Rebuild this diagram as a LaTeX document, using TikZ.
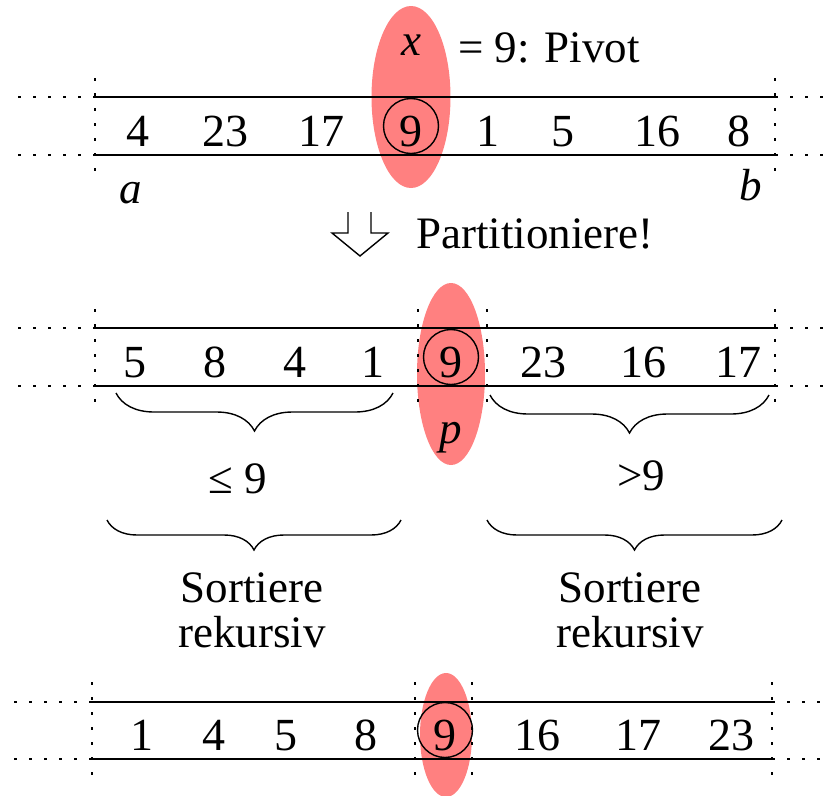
\documentclass[tikz,border=0pt]{standalone}
\usepackage{fontspec}
\setmainfont{Liberation Serif}
\usetikzlibrary{decorations.pathreplacing}
\begin{document}
\begin{tikzpicture}[x=1pt,y=-1pt,
  num/.style={anchor=base,inner sep=0pt,font=\fontsize{46}{50}\selectfont},
  txt/.style={anchor=base,inner sep=0pt,font=\fontsize{45}{49}\selectfont},
  pivotmark/.style={fill=red!50,draw=none},
  ring/.style={draw,circle,line width=1.4pt,minimum size=55pt,inner sep=0pt},
  rail/.style={line width=1.8pt},
  dots/.style={line width=2pt,dash pattern=on 2.5pt off 12.5pt},
  bracedown/.style={line width=1.4pt,decorate,decoration={brace,mirror,amplitude=#1}},
  hollowarrow/.style={line width=1.4pt,line join=miter}]
\useasboundingbox (0,0) rectangle (831,796);

% ---------- pivot highlights (behind everything) ----------
\fill[pivotmark] (411,97) ellipse [x radius=39.5, y radius=91];
\fill[pivotmark] (451,374) ellipse [x radius=34, y radius=91];
\fill[pivotmark] (446,735) ellipse [x radius=26, y radius=62];

% ---------- row 1: input array ----------
\coordinate (r1tl) at (95,97);  \coordinate (r1tr) at (775,97);
\coordinate (r1bl) at (95,155); \coordinate (r1br) at (775,155);
\draw[rail] (r1tl) -- (r1tr);
\draw[rail] (r1bl) -- (r1br);
\coordinate (r1ol) at (18,97);  \coordinate (r1or) at (831,97);
\coordinate (r1ul) at (18,155); \coordinate (r1ur) at (831,155);
\draw[dots] (r1ol) -- (r1tl); \draw[dots] (r1tr) -- (r1or);
\draw[dots] (r1ul) -- (r1bl); \draw[dots] (r1br) -- (r1ur);
\coordinate (r1va) at (95,78);  \coordinate (r1vb) at (95,176);
\coordinate (r1vc) at (775,78); \coordinate (r1vd) at (775,176);
\draw[dots] (r1va) -- (r1vb);
\draw[dots] (r1vc) -- (r1vd);

\node[num] (a1) at (138,146) {4};
\node[num] (a2) at (225,146) {23};
\node[num] (a3) at (321,146) {17};
\node[num] (a4) at (411,146) {9};
\node[num] (a5) at (488,146) {1};
\node[num] (a6) at (563,146) {5};
\node[num] (a7) at (657,146) {16};
\node[num] (a8) at (739,146) {8};
\node[ring] (c1) at (411,126) {};

\node[txt] (xlab) at (411,55) {\textit{x}};
\node[txt,anchor=base west] (pivlab) at (458,62) {= 9: Pivot};
\node[txt] (alab) at (131,203) {\textit{a}};
\node[txt] (blab) at (751,200) {\textit{b}};

% ---------- partition step ----------
\draw[hollowarrow] (348,212) -- (348,233) -- (332,233) -- (360,256)
  -- (388,233) -- (371,233) -- (371,212);
\node[txt,anchor=base west] (partlab) at (416,248) {Partitioniere!};

% ---------- row 2: partitioned array ----------
\coordinate (r2tl) at (95,328);  \coordinate (r2tr) at (775,328);
\coordinate (r2bl) at (95,386);  \coordinate (r2br) at (775,386);
\draw[rail] (r2tl) -- (r2tr);
\draw[rail] (r2bl) -- (r2br);
\coordinate (r2ol) at (18,328);  \coordinate (r2or) at (831,328);
\coordinate (r2ul) at (18,386);  \coordinate (r2ur) at (831,386);
\draw[dots] (r2ol) -- (r2tl); \draw[dots] (r2tr) -- (r2or);
\draw[dots] (r2ul) -- (r2bl); \draw[dots] (r2br) -- (r2ur);
\foreach \xx/\nm in {95/A,418/B,487/C,775/D}{
  \coordinate (r2v\nm t) at (\xx,309);
  \coordinate (r2v\nm b) at (\xx,406);
  \draw[dots] (r2v\nm t) -- (r2v\nm b);
}

\node[num] (b1) at (135,377) {5};
\node[num] (b2) at (215,377) {8};
\node[num] (b3) at (295,377) {4};
\node[num] (b4) at (373,377) {1};
\node[num] (b5) at (451,377) {9};
\node[num] (b6) at (543,377) {23};
\node[num] (b7) at (643,377) {16};
\node[num] (b8) at (738,377) {17};
\node[ring] (c2) at (451,357) {};
\node[txt] (plab) at (451,443) {\textit{p}};

\coordinate (br1a) at (116,393); \coordinate (br1b) at (393,393);
\coordinate (br2a) at (490,395); \coordinate (br2b) at (769,395);
\draw[bracedown=38pt] (br1a) -- (br1b);
\draw[bracedown=38pt] (br2a) -- (br2b);
\node[txt] (lelab) at (238,493) {≤ 9};
\node[txt] (gtlab) at (641,490) {>9};

\coordinate (br3a) at (107,520); \coordinate (br3b) at (401,520);
\coordinate (br4a) at (487,520); \coordinate (br4b) at (782,520);
\draw[bracedown=30pt] (br3a) -- (br3b);
\draw[bracedown=30pt] (br4a) -- (br4b);
\node[txt] (s1a) at (252,602) {Sortiere};
\node[txt] (s1b) at (252,647) {rekursiv};
\node[txt] (s2a) at (630,602) {Sortiere};
\node[txt] (s2b) at (630,647) {rekursiv};

% ---------- row 3: sorted array ----------
\coordinate (r3tl) at (92,702);  \coordinate (r3tr) at (772,702);
\coordinate (r3bl) at (92,759);  \coordinate (r3br) at (772,759);
\draw[rail] (r3tl) -- (r3tr);
\draw[rail] (r3bl) -- (r3br);
\coordinate (r3ol) at (14,702);  \coordinate (r3or) at (831,702);
\coordinate (r3ul) at (14,759);  \coordinate (r3ur) at (831,759);
\draw[dots] (r3ol) -- (r3tl); \draw[dots] (r3tr) -- (r3or);
\draw[dots] (r3ul) -- (r3bl); \draw[dots] (r3br) -- (r3ur);
\foreach \xx/\nm in {92/A,415/B,472/C,772/D}{
  \coordinate (r3v\nm t) at (\xx,682);
  \coordinate (r3v\nm b) at (\xx,779);
  \draw[dots] (r3v\nm t) -- (r3v\nm b);
}

\node[num] (d1) at (142,750) {1};
\node[num] (d2) at (214,750) {4};
\node[num] (d3) at (286,750) {5};
\node[num] (d4) at (366,750) {8};
\node[num] (d5) at (445,750) {9};
\node[num] (d6) at (537,750) {16};
\node[num] (d7) at (638,750) {17};
\node[num] (d8) at (731,750) {23};
\node[ring] (c3) at (445,730) {};
\end{tikzpicture}
\end{document}
